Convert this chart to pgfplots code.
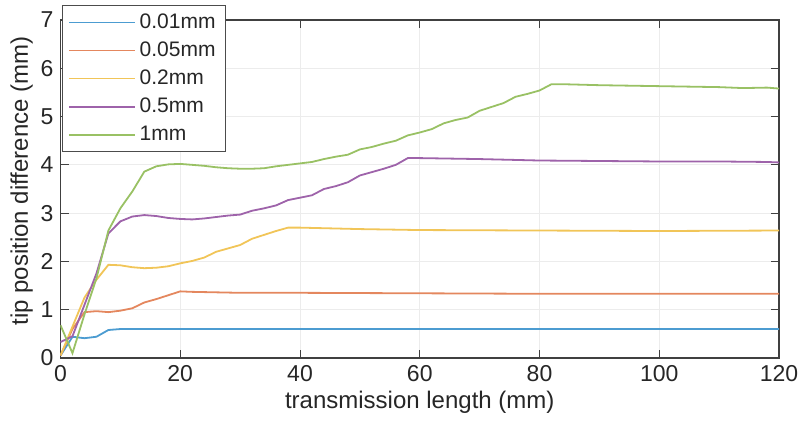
\documentclass[border=0pt]{standalone}
\usepackage{pgfplots}
\pgfplotsset{compat=1.18}
\usepackage{fontspec}
\setmainfont{Liberation Sans}

% MATLAB default line colours, a little lighter as in the figure
\definecolor{mblue}{rgb}{0.0,0.447,0.741}
\definecolor{morange}{rgb}{0.85,0.325,0.098}
\definecolor{myellow}{rgb}{0.929,0.694,0.125}
\definecolor{mpurple}{rgb}{0.494,0.184,0.556}
\definecolor{mgreen}{rgb}{0.466,0.674,0.188}

\begin{document}
\begin{tikzpicture}
\begin{axis}[
    scale only axis,
    width=359.25pt, height=169pt,
    xmin=0, xmax=120,
    ymin=0, ymax=7,
    xtick={0,20,...,120},
    ytick={0,1,...,7},
    grid=major,
    major grid style={gray!15, line width=0.5pt},
    axis line style={black!75, line width=0.6pt},
    tick style={black!75, line width=0.5pt},
    tick align=inside,
    major tick length=4pt,
    tick label style={font=\fontsize{11.5}{13}\selectfont, black!85},
    label style={font=\fontsize{12}{14}\selectfont, black!85},
    /pgf/number format/assume math mode=true,
    xlabel={transmission length (mm)},
    ylabel={tip position difference (mm)},
    xlabel style={yshift=2pt},
    ylabel style={yshift=-3pt, xshift=4pt},
    legend style={
        at={(rel axis cs:0.002,1.044)}, anchor=north west,
        draw=black!70, line width=0.5pt,
        font=\fontsize{10.5}{12}\selectfont, text=black!85,
        row sep=1.2pt, inner xsep=3pt, inner ysep=2pt,
    },
    legend cell align=left,
    legend image code/.code={\draw[#1, line width=0.9pt] (0cm,0cm) -- (1.15cm,0cm);},
    every axis plot/.append style={line width=0.9pt, mark=none},
]
\addplot[mblue!70!white] coordinates {
(0,0.05) (2,0.44) (4,0.41) (6,0.44) (8,0.58) (10,0.60) (20,0.60) (60,0.60) (120,0.60)
};
\addlegendentry{0.01mm}
\addplot[morange!70!white] coordinates {
(0,0.05) (2,0.60) (4,0.95) (6,0.97) (8,0.95) (10,0.98) (12,1.03) (14,1.15) (16,1.22)
(18,1.30) (20,1.38) (22,1.37) (30,1.35) (40,1.35) (60,1.34) (80,1.33) (100,1.33) (120,1.33)
};
\addlegendentry{0.05mm}
\addplot[myellow!75!white] coordinates {
(0,0.05) (2,0.65) (4,1.25) (6,1.62) (8,1.93) (10,1.92) (12,1.88) (14,1.86) (16,1.87)
(18,1.90) (20,1.96) (22,2.01) (24,2.08) (26,2.20) (28,2.27) (30,2.34) (32,2.47) (34,2.55)
(36,2.63) (38,2.70) (40,2.70) (50,2.67) (60,2.65) (80,2.64) (100,2.63) (120,2.64)
};
\addlegendentry{0.2mm}
\addplot[mpurple!75!white] coordinates {
(0,0.33) (2,0.45) (4,1.10) (6,1.75) (8,2.58) (10,2.83) (12,2.93) (14,2.96) (16,2.94)
(18,2.90) (20,2.88) (22,2.87) (24,2.89) (26,2.92) (28,2.95) (30,2.97) (32,3.05) (34,3.10)
(36,3.16) (38,3.27) (40,3.32) (42,3.37) (44,3.50) (46,3.56) (48,3.64) (50,3.78) (52,3.85)
(54,3.92) (56,4.00) (58,4.14) (60,4.14) (70,4.12) (80,4.09) (90,4.08) (100,4.07) (110,4.07)
(118,4.06) (120,4.05)
};
\addlegendentry{0.5mm}
\addplot[mgreen!75!white] coordinates {
(0,0.68) (2,0.10) (4,0.90) (6,1.65) (8,2.64) (10,3.10) (12,3.45) (14,3.86) (16,3.97)
(18,4.01) (20,4.02) (22,4.00) (24,3.98) (26,3.95) (28,3.93) (30,3.92) (32,3.92) (34,3.93)
(36,3.97) (38,4.00) (40,4.03) (42,4.06) (44,4.12) (46,4.17) (48,4.21) (50,4.32) (52,4.37)
(54,4.44) (56,4.50) (58,4.61) (60,4.67) (62,4.74) (64,4.86) (66,4.93) (68,4.98) (70,5.12)
(72,5.20) (74,5.28) (76,5.41) (78,5.47) (80,5.54) (82,5.67) (84,5.67) (90,5.65) (100,5.63)
(110,5.61) (114,5.59) (118,5.60) (120,5.58)
};
\addlegendentry{1mm}
\coordinate (sw) at (rel axis cs:0,0);
\coordinate (ne) at (rel axis cs:1,1);
\end{axis}
\pgfresetboundingbox
\path ([shift={(-30.25pt,-37.5pt)}]sw) rectangle ([shift={(10.5pt,10pt)}]ne);
\end{tikzpicture}
\end{document}
